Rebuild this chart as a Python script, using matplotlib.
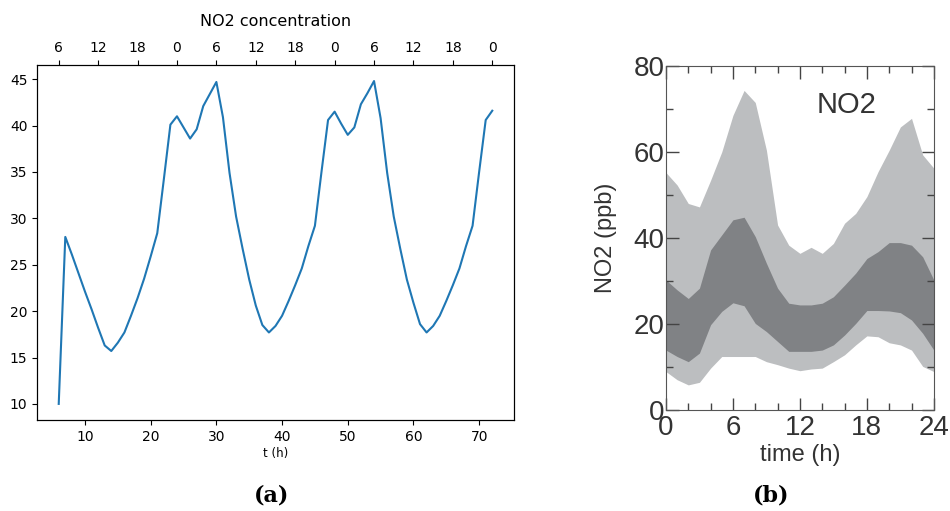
import numpy as np
import matplotlib
matplotlib.use('Agg')
import matplotlib.pyplot as plt
from matplotlib.ticker import MultipleLocator

# panel (a): model NO2 concentration, hourly
t_hours = list(range(6, 73))
no2_model = [10.0, 28.0, 26.1, 24.1, 22.1, 20.2, 18.2, 16.3, 15.7, 16.6, 17.7, 19.5, 21.4,
             23.5, 25.9, 28.4, 34.2, 40.1, 41.0, 39.8, 38.6, 39.6, 42.1, 43.4, 44.7,
             40.9, 34.9, 30.2, 26.7, 23.4, 20.6, 18.5, 17.7, 18.4, 19.5, 21.1, 22.8,
             24.6, 27.0, 29.2, 35.0, 40.6, 41.5, 40.2, 39.0, 39.8, 42.3, 43.5, 44.8,
             40.8, 34.9, 30.2, 26.7, 23.4, 20.9, 18.6, 17.7, 18.4, 19.5, 21.1, 22.8,
             24.6, 27.0, 29.2, 35.0, 40.6, 41.6]
top_ticks = [6, 12, 18, 24, 30, 36, 42, 48, 54, 60, 66, 72]
top_labels = ['6', '12', '18', '0', '6', '12', '18', '0', '6', '12', '18', '0']

# panel (b): observed NO2 percentile bands
hour = list(range(0, 25))
outer_hi = [55.2, 52.3, 48.0, 47.2, 53.4, 60.0, 68.5, 74.3, 71.5, 60.4, 43.0, 38.3, 36.4,
            37.8, 36.4, 38.7, 43.4, 45.7, 49.6, 55.4, 60.4, 65.8, 67.8, 59.3, 56.2]
inner_hi = [30.2, 27.9, 25.9, 28.3, 37.2, 40.7, 44.2, 44.8, 40.3, 34.1, 28.3, 24.8, 24.4,
            24.4, 24.8, 26.3, 29.0, 31.8, 35.2, 36.8, 38.9, 38.9, 38.3, 35.6, 30.2]
inner_lo = [13.9, 12.4, 11.2, 13.2, 19.8, 22.9, 24.9, 24.2, 20.1, 18.2, 15.9, 13.6, 13.6,
            13.6, 13.9, 15.1, 17.4, 20.1, 23.1, 23.1, 23.0, 22.6, 20.9, 17.8, 13.9]
outer_lo = [8.9, 7.0, 5.8, 6.4, 9.7, 12.4, 12.4, 12.4, 12.4, 11.2, 10.5, 9.7, 9.1,
            9.5, 9.7, 11.2, 12.8, 15.1, 17.2, 17.0, 15.6, 15.1, 13.9, 10.1, 8.9]

fig = plt.figure(figsize=(9.5, 5.11), dpi=100)

# ---- (a)
ax = fig.add_axes([0.039, 0.178, 0.502, 0.695])
ax.plot(t_hours, no2_model, color='#1f77b4', lw=1.5)
ax.set_xlabel('t (h)', fontsize=8.5, labelpad=2)
ax.tick_params(labelsize=10)
ax.set_yticks([10, 15, 20, 25, 30, 35, 40, 45])
ax2 = ax.twiny()
ax2.set_xlim(ax.get_xlim())
ax2.set_xticks(top_ticks)
ax2.set_xticklabels(top_labels)
ax2.tick_params(labelsize=10)
ax2.set_title('NO2 concentration', fontsize=11.5, pad=11)

# ---- (b)
bx = fig.add_axes([0.701, 0.198, 0.282, 0.673])
light = '#bcbec0'
dark = '#808285'
bx.fill_between(hour, outer_lo, outer_hi, color=light, lw=0)
bx.fill_between(hour, inner_lo, inner_hi, color=dark, lw=0)
bx.set_xlim(0, 24)
bx.set_ylim(0, 80)
bx.xaxis.set_major_locator(MultipleLocator(6))
bx.xaxis.set_minor_locator(MultipleLocator(2))
bx.yaxis.set_major_locator(MultipleLocator(20))
bx.yaxis.set_minor_locator(MultipleLocator(10))
bx.tick_params(which='both', direction='in', top=True, right=True, color='#444444')
bx.tick_params(which='major', length=9, width=1)
bx.tick_params(which='minor', length=5, width=1)
bx.tick_params(axis='both', labelsize=20, labelcolor='#333333')
bx.tick_params(axis='x', pad=4)
bx.tick_params(axis='y', pad=1)
for lab in bx.get_xticklabels() + bx.get_yticklabels():
    lab.set_family('Liberation Sans')
for s in bx.spines.values():
    s.set_color('#555555')
bx.set_xlabel('time (h)', fontsize=17, family='Liberation Sans', color='#333333', labelpad=2)
bx.set_ylabel('NO2 (ppb)', fontsize=17, family='Liberation Sans', color='#333333', labelpad=12)
bx.text(0.785, 0.887, 'NO2', transform=bx.transAxes, fontsize=21, family='Liberation Sans',
        color='#333333', ha='right', va='center')

fig.text(272 / 950, 1 - 495 / 511, '(a)', fontsize=16, weight='bold', family='DejaVu Serif',
         ha='center', va='center')
fig.text(771 / 950, 1 - 495 / 511, '(b)', fontsize=16, weight='bold', family='DejaVu Serif',
         ha='center', va='center')

fig.savefig('out.png', dpi=100)
